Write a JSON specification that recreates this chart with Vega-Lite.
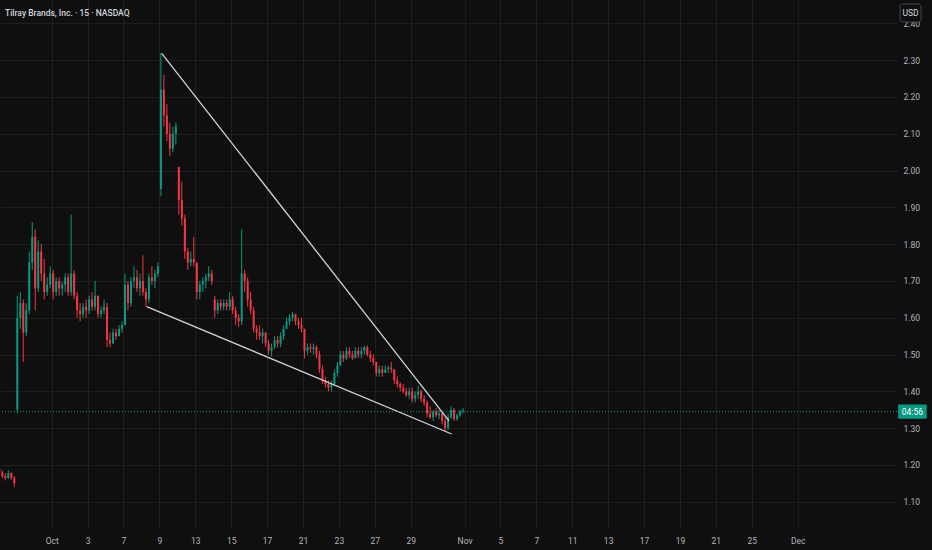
{
  "$schema": "https://vega.github.io/schema/vega-lite/v6.json",
  "width": 897,
  "height": 529,
  "autosize": {"type": "none"},
  "padding": {"left": 0, "top": 0, "right": 35, "bottom": 21},
  "background": "#0f0f0f",
  "title": {
    "text": "Tilray Brands, Inc. · 15 · NASDAQ",
    "anchor": "start",
    "frame": "group",
    "offset": -17,
    "dx": 5,
    "color": "#d1d4dc",
    "font": "Roboto",
    "fontSize": 8.5,
    "fontWeight": 500
  },
  "config": {
    "view": {"stroke": null},
    "axis": {
      "labelFont": "Roboto",
      "labelFontSize": 8.5,
      "labelColor": "#b2b5be",
      "gridColor": "#1e1e1e",
      "gridWidth": 1,
      "ticks": false,
      "domain": false
    }
  },
  "datasets": {
    "candles": [
      {"t": -2.917, "o": 1.19, "h": 1.195, "l": 1.175, "c": 1.18},
      {"t": -2.75, "o": 1.18, "h": 1.185, "l": 1.165, "c": 1.17},
      {"t": -2.583, "o": 1.17, "h": 1.178, "l": 1.158, "c": 1.165},
      {"t": -2.417, "o": 1.165, "h": 1.185, "l": 1.162, "c": 1.178},
      {"t": -2.25, "o": 1.178, "h": 1.18, "l": 1.16, "c": 1.165},
      {"t": -2.083, "o": 1.165, "h": 1.17, "l": 1.14, "c": 1.15},
      {"t": -1.917, "o": 1.35, "h": 1.66, "l": 1.34, "c": 1.60},
      {"t": -1.75, "o": 1.60, "h": 1.67, "l": 1.57, "c": 1.64},
      {"t": -1.583, "o": 1.64, "h": 1.65, "l": 1.48, "c": 1.56},
      {"t": -1.417, "o": 1.56, "h": 1.64, "l": 1.55, "c": 1.62},
      {"t": -1.25, "o": 1.62, "h": 1.78, "l": 1.61, "c": 1.75},
      {"t": -1.083, "o": 1.75, "h": 1.86, "l": 1.73, "c": 1.82},
      {"t": -0.917, "o": 1.82, "h": 1.84, "l": 1.62, "c": 1.68},
      {"t": -0.75, "o": 1.68, "h": 1.81, "l": 1.67, "c": 1.78},
      {"t": -0.583, "o": 1.78, "h": 1.80, "l": 1.70, "c": 1.72},
      {"t": -0.417, "o": 1.72, "h": 1.76, "l": 1.65, "c": 1.67},
      {"t": -0.25, "o": 1.67, "h": 1.71, "l": 1.66, "c": 1.69},
      {"t": -0.083, "o": 1.69, "h": 1.74, "l": 1.68, "c": 1.72},
      {"t": 0.083, "o": 1.72, "h": 1.73, "l": 1.65, "c": 1.67},
      {"t": 0.25, "o": 1.67, "h": 1.71, "l": 1.66, "c": 1.70},
      {"t": 0.417, "o": 1.70, "h": 1.71, "l": 1.66, "c": 1.68},
      {"t": 0.583, "o": 1.68, "h": 1.70, "l": 1.66, "c": 1.69},
      {"t": 0.75, "o": 1.69, "h": 1.72, "l": 1.67, "c": 1.71},
      {"t": 0.917, "o": 1.71, "h": 1.72, "l": 1.66, "c": 1.67},
      {"t": 1.083, "o": 1.67, "h": 1.88, "l": 1.66, "c": 1.72},
      {"t": 1.25, "o": 1.72, "h": 1.73, "l": 1.65, "c": 1.66},
      {"t": 1.417, "o": 1.66, "h": 1.67, "l": 1.60, "c": 1.62},
      {"t": 1.583, "o": 1.62, "h": 1.64, "l": 1.59, "c": 1.61},
      {"t": 1.75, "o": 1.61, "h": 1.64, "l": 1.60, "c": 1.63},
      {"t": 1.917, "o": 1.63, "h": 1.65, "l": 1.60, "c": 1.62},
      {"t": 2.083, "o": 1.62, "h": 1.66, "l": 1.61, "c": 1.65},
      {"t": 2.25, "o": 1.65, "h": 1.67, "l": 1.62, "c": 1.63},
      {"t": 2.417, "o": 1.63, "h": 1.70, "l": 1.62, "c": 1.66},
      {"t": 2.583, "o": 1.66, "h": 1.66, "l": 1.60, "c": 1.61},
      {"t": 2.75, "o": 1.61, "h": 1.63, "l": 1.60, "c": 1.62},
      {"t": 2.917, "o": 1.62, "h": 1.65, "l": 1.61, "c": 1.63},
      {"t": 3.083, "o": 1.63, "h": 1.64, "l": 1.52, "c": 1.54},
      {"t": 3.25, "o": 1.54, "h": 1.56, "l": 1.52, "c": 1.53},
      {"t": 3.417, "o": 1.53, "h": 1.57, "l": 1.53, "c": 1.56},
      {"t": 3.583, "o": 1.56, "h": 1.57, "l": 1.54, "c": 1.55},
      {"t": 3.75, "o": 1.55, "h": 1.58, "l": 1.55, "c": 1.57},
      {"t": 3.917, "o": 1.57, "h": 1.59, "l": 1.56, "c": 1.58},
      {"t": 4.083, "o": 1.58, "h": 1.72, "l": 1.58, "c": 1.69},
      {"t": 4.25, "o": 1.69, "h": 1.70, "l": 1.62, "c": 1.64},
      {"t": 4.417, "o": 1.64, "h": 1.71, "l": 1.63, "c": 1.70},
      {"t": 4.583, "o": 1.70, "h": 1.74, "l": 1.68, "c": 1.71},
      {"t": 4.75, "o": 1.71, "h": 1.73, "l": 1.67, "c": 1.68},
      {"t": 4.917, "o": 1.68, "h": 1.72, "l": 1.66, "c": 1.70},
      {"t": 5.083, "o": 1.70, "h": 1.77, "l": 1.66, "c": 1.67},
      {"t": 5.25, "o": 1.67, "h": 1.68, "l": 1.63, "c": 1.65},
      {"t": 5.417, "o": 1.65, "h": 1.72, "l": 1.64, "c": 1.71},
      {"t": 5.583, "o": 1.71, "h": 1.74, "l": 1.69, "c": 1.70},
      {"t": 5.75, "o": 1.70, "h": 1.73, "l": 1.68, "c": 1.72},
      {"t": 5.917, "o": 1.72, "h": 1.75, "l": 1.71, "c": 1.74},
      {"t": 6.083, "o": 1.95, "h": 2.32, "l": 1.93, "c": 2.22},
      {"t": 6.25, "o": 2.22, "h": 2.26, "l": 2.12, "c": 2.15},
      {"t": 6.417, "o": 2.15, "h": 2.18, "l": 2.08, "c": 2.10},
      {"t": 6.583, "o": 2.10, "h": 2.13, "l": 2.04, "c": 2.06},
      {"t": 6.75, "o": 2.06, "h": 2.12, "l": 2.05, "c": 2.10},
      {"t": 6.917, "o": 2.10, "h": 2.13, "l": 2.07, "c": 2.12},
      {"t": 7.083, "o": 2.01, "h": 2.01, "l": 1.88, "c": 1.92},
      {"t": 7.25, "o": 1.92, "h": 1.97, "l": 1.85, "c": 1.87},
      {"t": 7.417, "o": 1.87, "h": 1.88, "l": 1.76, "c": 1.78},
      {"t": 7.583, "o": 1.78, "h": 1.79, "l": 1.73, "c": 1.75},
      {"t": 7.75, "o": 1.75, "h": 1.78, "l": 1.74, "c": 1.76},
      {"t": 7.917, "o": 1.76, "h": 1.82, "l": 1.74, "c": 1.75},
      {"t": 8.083, "o": 1.75, "h": 1.75, "l": 1.65, "c": 1.67},
      {"t": 8.25, "o": 1.67, "h": 1.70, "l": 1.65, "c": 1.69},
      {"t": 8.417, "o": 1.69, "h": 1.71, "l": 1.67, "c": 1.70},
      {"t": 8.583, "o": 1.70, "h": 1.72, "l": 1.68, "c": 1.71},
      {"t": 8.75, "o": 1.71, "h": 1.74, "l": 1.70, "c": 1.72},
      {"t": 8.917, "o": 1.72, "h": 1.73, "l": 1.69, "c": 1.70},
      {"t": 9.083, "o": 1.65, "h": 1.66, "l": 1.60, "c": 1.62},
      {"t": 9.25, "o": 1.62, "h": 1.65, "l": 1.61, "c": 1.64},
      {"t": 9.417, "o": 1.64, "h": 1.65, "l": 1.62, "c": 1.63},
      {"t": 9.583, "o": 1.63, "h": 1.65, "l": 1.62, "c": 1.64},
      {"t": 9.75, "o": 1.64, "h": 1.65, "l": 1.62, "c": 1.63},
      {"t": 9.917, "o": 1.63, "h": 1.67, "l": 1.62, "c": 1.65},
      {"t": 10.083, "o": 1.65, "h": 1.66, "l": 1.61, "c": 1.62},
      {"t": 10.25, "o": 1.62, "h": 1.63, "l": 1.58, "c": 1.60},
      {"t": 10.417, "o": 1.60, "h": 1.61, "l": 1.575, "c": 1.59},
      {"t": 10.583, "o": 1.59, "h": 1.84, "l": 1.58, "c": 1.72},
      {"t": 10.75, "o": 1.72, "h": 1.73, "l": 1.67, "c": 1.70},
      {"t": 10.917, "o": 1.70, "h": 1.71, "l": 1.63, "c": 1.65},
      {"t": 11.083, "o": 1.65, "h": 1.67, "l": 1.61, "c": 1.62},
      {"t": 11.25, "o": 1.62, "h": 1.63, "l": 1.56, "c": 1.57},
      {"t": 11.417, "o": 1.57, "h": 1.58, "l": 1.54, "c": 1.56},
      {"t": 11.583, "o": 1.56, "h": 1.58, "l": 1.54, "c": 1.55},
      {"t": 11.75, "o": 1.55, "h": 1.57, "l": 1.53, "c": 1.56},
      {"t": 11.917, "o": 1.56, "h": 1.56, "l": 1.52, "c": 1.53},
      {"t": 12.083, "o": 1.53, "h": 1.54, "l": 1.50, "c": 1.51},
      {"t": 12.25, "o": 1.51, "h": 1.53, "l": 1.495, "c": 1.52},
      {"t": 12.417, "o": 1.52, "h": 1.55, "l": 1.515, "c": 1.54},
      {"t": 12.583, "o": 1.54, "h": 1.55, "l": 1.52, "c": 1.53},
      {"t": 12.75, "o": 1.53, "h": 1.56, "l": 1.52, "c": 1.55},
      {"t": 12.917, "o": 1.55, "h": 1.58, "l": 1.54, "c": 1.57},
      {"t": 13.083, "o": 1.57, "h": 1.60, "l": 1.57, "c": 1.59},
      {"t": 13.25, "o": 1.59, "h": 1.61, "l": 1.58, "c": 1.60},
      {"t": 13.417, "o": 1.60, "h": 1.615, "l": 1.59, "c": 1.61},
      {"t": 13.583, "o": 1.61, "h": 1.61, "l": 1.58, "c": 1.59},
      {"t": 13.75, "o": 1.59, "h": 1.60, "l": 1.57, "c": 1.58},
      {"t": 13.917, "o": 1.58, "h": 1.60, "l": 1.56, "c": 1.57},
      {"t": 14.083, "o": 1.57, "h": 1.57, "l": 1.49, "c": 1.51},
      {"t": 14.25, "o": 1.51, "h": 1.53, "l": 1.50, "c": 1.52},
      {"t": 14.417, "o": 1.52, "h": 1.53, "l": 1.505, "c": 1.515},
      {"t": 14.583, "o": 1.515, "h": 1.53, "l": 1.50, "c": 1.52},
      {"t": 14.75, "o": 1.52, "h": 1.525, "l": 1.49, "c": 1.50},
      {"t": 14.917, "o": 1.50, "h": 1.51, "l": 1.45, "c": 1.46},
      {"t": 15.083, "o": 1.46, "h": 1.47, "l": 1.42, "c": 1.43},
      {"t": 15.25, "o": 1.43, "h": 1.44, "l": 1.41, "c": 1.42},
      {"t": 15.417, "o": 1.42, "h": 1.43, "l": 1.40, "c": 1.41},
      {"t": 15.583, "o": 1.41, "h": 1.43, "l": 1.40, "c": 1.42},
      {"t": 15.75, "o": 1.42, "h": 1.46, "l": 1.415, "c": 1.45},
      {"t": 15.917, "o": 1.45, "h": 1.48, "l": 1.44, "c": 1.47},
      {"t": 16.083, "o": 1.47, "h": 1.51, "l": 1.47, "c": 1.50},
      {"t": 16.25, "o": 1.50, "h": 1.51, "l": 1.48, "c": 1.49},
      {"t": 16.417, "o": 1.49, "h": 1.52, "l": 1.485, "c": 1.51},
      {"t": 16.583, "o": 1.51, "h": 1.52, "l": 1.49, "c": 1.50},
      {"t": 16.75, "o": 1.50, "h": 1.51, "l": 1.485, "c": 1.49},
      {"t": 16.917, "o": 1.49, "h": 1.52, "l": 1.49, "c": 1.51},
      {"t": 17.083, "o": 1.51, "h": 1.52, "l": 1.49, "c": 1.50},
      {"t": 17.25, "o": 1.50, "h": 1.52, "l": 1.49, "c": 1.51},
      {"t": 17.417, "o": 1.51, "h": 1.525, "l": 1.50, "c": 1.52},
      {"t": 17.583, "o": 1.52, "h": 1.525, "l": 1.495, "c": 1.50},
      {"t": 17.75, "o": 1.50, "h": 1.51, "l": 1.48, "c": 1.49},
      {"t": 17.917, "o": 1.49, "h": 1.50, "l": 1.47, "c": 1.48},
      {"t": 18.083, "o": 1.48, "h": 1.48, "l": 1.44, "c": 1.45},
      {"t": 18.25, "o": 1.45, "h": 1.47, "l": 1.44, "c": 1.46},
      {"t": 18.417, "o": 1.46, "h": 1.47, "l": 1.44, "c": 1.45},
      {"t": 18.583, "o": 1.45, "h": 1.47, "l": 1.45, "c": 1.46},
      {"t": 18.75, "o": 1.46, "h": 1.47, "l": 1.45, "c": 1.465},
      {"t": 18.917, "o": 1.465, "h": 1.48, "l": 1.45, "c": 1.46},
      {"t": 19.083, "o": 1.46, "h": 1.46, "l": 1.42, "c": 1.43},
      {"t": 19.25, "o": 1.43, "h": 1.44, "l": 1.41, "c": 1.42},
      {"t": 19.417, "o": 1.42, "h": 1.425, "l": 1.40, "c": 1.41},
      {"t": 19.583, "o": 1.41, "h": 1.42, "l": 1.395, "c": 1.40},
      {"t": 19.75, "o": 1.40, "h": 1.41, "l": 1.385, "c": 1.39},
      {"t": 19.917, "o": 1.39, "h": 1.41, "l": 1.38, "c": 1.40},
      {"t": 20.083, "o": 1.40, "h": 1.41, "l": 1.37, "c": 1.38},
      {"t": 20.25, "o": 1.38, "h": 1.40, "l": 1.37, "c": 1.39},
      {"t": 20.417, "o": 1.39, "h": 1.415, "l": 1.38, "c": 1.40},
      {"t": 20.583, "o": 1.40, "h": 1.405, "l": 1.37, "c": 1.38},
      {"t": 20.75, "o": 1.38, "h": 1.39, "l": 1.36, "c": 1.37},
      {"t": 20.917, "o": 1.37, "h": 1.375, "l": 1.33, "c": 1.34},
      {"t": 21.083, "o": 1.34, "h": 1.36, "l": 1.325, "c": 1.33},
      {"t": 21.25, "o": 1.33, "h": 1.35, "l": 1.32, "c": 1.345},
      {"t": 21.417, "o": 1.345, "h": 1.355, "l": 1.33, "c": 1.335},
      {"t": 21.583, "o": 1.335, "h": 1.35, "l": 1.325, "c": 1.34},
      {"t": 21.75, "o": 1.34, "h": 1.345, "l": 1.31, "c": 1.32},
      {"t": 21.917, "o": 1.32, "h": 1.33, "l": 1.29, "c": 1.30},
      {"t": 22.083, "o": 1.30, "h": 1.34, "l": 1.295, "c": 1.33},
      {"t": 22.25, "o": 1.33, "h": 1.36, "l": 1.325, "c": 1.35},
      {"t": 22.417, "o": 1.35, "h": 1.355, "l": 1.32, "c": 1.325},
      {"t": 22.583, "o": 1.325, "h": 1.34, "l": 1.32, "c": 1.335},
      {"t": 22.75, "o": 1.335, "h": 1.35, "l": 1.33, "c": 1.345},
      {"t": 22.917, "o": 1.345, "h": 1.355, "l": 1.34, "c": 1.348}
    ],
    "trend": [
      {"line": "upper", "t": 6.128, "p": 2.3188},
      {"line": "upper", "t": 22.134, "p": 1.3196},
      {"line": "lower", "t": 5.292, "p": 1.6302},
      {"line": "lower", "t": 22.284, "p": 1.2842}
    ]
  },
  "layer": [
    {
      "data": {"name": "candles"},
      "mark": {"type": "rule", "strokeWidth": 1, "clip": true},
      "encoding": {
        "x": {
          "field": "t", "type": "quantitative", "title": null,
          "scale": {"domain": [-2.88, 47.092], "nice": false, "zero": false, "padding": 0},
          "axis": {
            "orient": "bottom",
            "values": [0, 2, 4, 6, 8, 10, 12, 14, 16, 18, 20, 23, 25, 27, 29, 31, 33, 35, 37, 39, 41.56],
            "labelExpr": "['Oct','3','7','9','13','15','17','21','23','27','29','Nov','5','7','11','13','17','19','21','25','Dec'][indexof([0,2,4,6,8,10,12,14,16,18,20,23,25,27,29,31,33,35,37,39,41.56], datum.value)]",
            "grid": true,
            "labelPadding": 7,
            "labelFlush": false,
            "labelOverlap": false
          }
        },
        "y": {
          "field": "l", "type": "quantitative", "title": null,
          "scale": {"domain": [1.026, 2.4636], "nice": false, "zero": false, "padding": 0},
          "axis": {
            "orient": "right",
            "values": [1.1, 1.2, 1.3, 1.4, 1.5, 1.6, 1.7, 1.8, 1.9, 2.0, 2.1, 2.2, 2.3, 2.4],
            "format": ".2f",
            "grid": true,
            "labelPadding": 6,
            "labelFlush": false,
            "labelOverlap": false
          }
        },
        "y2": {"field": "h"},
        "color": {
          "condition": {"test": "datum.c >= datum.o", "value": "#089981"},
          "value": "#f23645"
        }
      }
    },
    {
      "data": {"name": "candles"},
      "mark": {"type": "bar", "width": 2, "clip": true},
      "encoding": {
        "x": {"field": "t", "type": "quantitative", "title": null},
        "y": {"field": "o", "type": "quantitative", "title": null},
        "y2": {"field": "c"},
        "color": {
          "condition": {"test": "datum.c >= datum.o", "value": "#089981"},
          "value": "#f23645"
        }
      }
    },
    {
      "data": {"name": "trend"},
      "mark": {"type": "line", "color": "#d1d4dc", "strokeWidth": 1.3},
      "encoding": {
        "x": {"field": "t", "type": "quantitative", "title": null},
        "y": {"field": "p", "type": "quantitative", "title": null},
        "detail": {"field": "line"}
      }
    },
    {
      "data": {"values": [{}]},
      "mark": {"type": "rule", "color": "#089981", "strokeDash": [1, 2], "strokeWidth": 1},
      "encoding": {
        "y": {"datum": 1.345, "type": "quantitative"}
      }
    },
    {
      "data": {"values": [{}]},
      "mark": {"type": "rect", "color": "#089981", "cornerRadius": 1},
      "encoding": {
        "x": {"datum": 47.15, "type": "quantitative"},
        "x2": {"datum": 48.75},
        "y": {"datum": 1.3255, "type": "quantitative"},
        "y2": {"datum": 1.3645}
      }
    },
    {
      "data": {"values": [{}]},
      "mark": {"type": "text", "text": "04:56", "color": "#ffffff", "font": "Roboto", "fontSize": 8.5, "align": "center", "baseline": "middle"},
      "encoding": {
        "x": {"datum": 47.95, "type": "quantitative"},
        "y": {"datum": 1.345, "type": "quantitative"}
      }
    },
    {
      "data": {"values": [{}]},
      "mark": {"type": "rect", "fill": "#0f0f0f", "stroke": "#434651", "strokeWidth": 1, "cornerRadius": 3},
      "encoding": {
        "x": {"datum": 47.26, "type": "quantitative"},
        "x2": {"datum": 48.43},
        "y": {"datum": 2.4038, "type": "quantitative"},
        "y2": {"datum": 2.4527}
      }
    },
    {
      "data": {"values": [{}]},
      "mark": {"type": "text", "text": "USD", "color": "#d1d4dc", "font": "Roboto", "fontSize": 8.5, "align": "center", "baseline": "middle"},
      "encoding": {
        "x": {"datum": 47.845, "type": "quantitative"},
        "y": {"datum": 2.4282, "type": "quantitative"}
      }
    }
  ]
}
